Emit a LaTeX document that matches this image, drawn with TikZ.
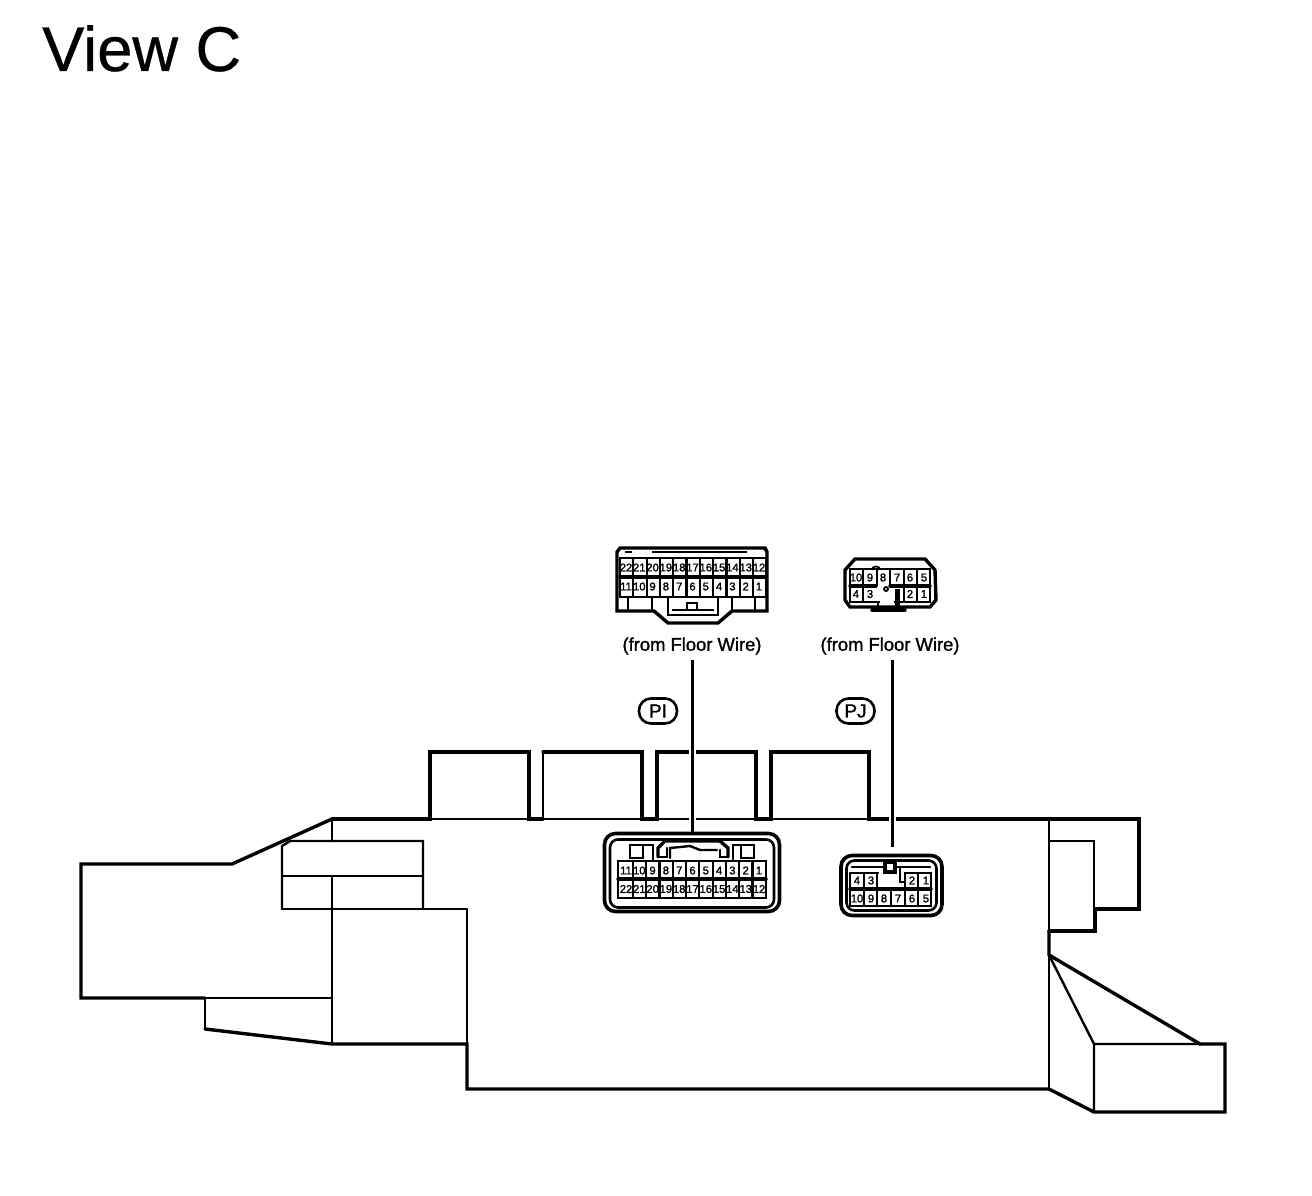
\documentclass[tikz,border=0pt]{standalone}
\usepackage{fontspec}
\setmainfont{Liberation Sans}
\newfontfamily\titlefont[FakeBold=0.6]{Liberation Sans}
\newfontfamily\labelfont[FakeBold=1.2]{Liberation Sans}
\newfontfamily\pinfont[FakeBold=1.6]{Liberation Sans}
\usetikzlibrary{calc}
\tikzset{
 thickline/.style={line width=3.4pt,line join=miter,line cap=round},
 thinline/.style={line width=2.4pt,line join=miter,line cap=round},
 cellline/.style={line width=2.2pt},
 leader/.style={line width=3pt},
 halo/.style={line width=7pt,white},
 pin/.style={inner sep=0pt,font=\pinfont\fontsize{11.2}{11.2}\selectfont},
 wirelabel/.style={inner sep=0pt,font=\labelfont\fontsize{18.4}{20}\selectfont},
 badge/.style={draw,line width=2.6pt,rounded corners=12pt,minimum width=38pt,minimum height=25pt,inner sep=0pt,font=\labelfont\fontsize{19}{20}\selectfont},
 shell/.style={draw,line width=3.6pt,rounded corners=11pt,inner sep=0pt},
 shellin/.style={draw,line width=2.6pt,rounded corners=8pt,inner sep=0pt},
}
\begin{document}
\begin{tikzpicture}[x=1pt,y=-1pt]
\useasboundingbox (0,0) rectangle (1312,1196);
\node[anchor=base west,inner sep=0pt,font=\titlefont\fontsize{63.2}{64}\selectfont] (title) at (42,71) {View C};

% ---------- housing ----------
\draw[thinline] (430,819) -- (869,819);
\draw[thickline] (332,819) -- (430,819) -- (430,752) -- (529,752) -- (529,819) -- (543,819);
\draw[thinline] (543,819) -- (543,752);
\draw[thickline] (543,752) -- (642,752) -- (642,819) -- (657,819) -- (657,752) -- (756,752) -- (756,819) -- (771,819) -- (771,752) -- (869,752) -- (869,819) -- (1139,819) -- (1139,909) -- (1095,909) -- (1095,931) -- (1049,931);
\draw[thickline] (1049,931) -- (1049,955) -- (1200,1044) -- (1225,1044) -- (1225,1112) -- (1094,1112) -- (1049,1089);
\draw[thinline] (1049,819) -- (1049,931) (1049,955) -- (1049,1089);
\draw[thinline] (1049,841) -- (1094,841) -- (1094,909);
\draw[thinline] (1049,955) -- (1094,1044) -- (1200,1044) (1094,1044) -- (1094,1112);
\draw[thickline] (1049,1089) -- (467,1089) -- (467,1044) -- (332,1044) -- (205,1029);
\draw[thinline] (205,1029) -- (205,998) -- (332,998);
\draw[thickline] (205,998) -- (81,998) -- (81,864) -- (232,864) -- (332,819);
\draw[thinline] (282,909) -- (282,846) -- (290,841) -- (423,841) -- (423,909);
\draw[thinline] (282,876) -- (423,876);
\draw[thinline] (282,909) -- (467,909) -- (467,1044);
\draw[thinline] (332,819) -- (332,841) (332,876) -- (332,1044);

% ---------- upper PI connector ----------
\draw[thickline] (620,548) -- (765,548) -- (767,552) -- (767,611) -- (732,611) -- (718,623) -- (668,623) -- (654,611) -- (617,611) -- (617,552) -- cycle;
\draw[thinline] (620,558) rectangle (766,597);
\draw[thickline] (620,577) -- (766,577);
\foreach \i in {1,...,10} \draw[cellline] ({620+13.3*\i},558) -- ({620+13.3*\i},597);
\draw[line width=1.6pt] (625,552) -- (632,552) (652,552) -- (734,552) (734,552) -- (747,552);
\draw[thinline] (652,597) -- (652,611) (732,597) -- (732,611);
\draw[thinline] (668,597) -- (668,615) -- (718,615) -- (718,597);
\draw[line width=1.8pt] (687,610) -- (687,603) -- (697,603) -- (697,610);
\draw[line width=1.8pt] (672,610) -- (714,610);
\draw[thinline] (628,597) -- (628,610) (755,610) -- (755,597);
\foreach \n [count=\i from 0] in {22,21,20,19,18,17,16,15,14,13,12}
  \node[pin] (ua\n) at ({626+13.3*\i},567.5) {\n};
\foreach \n [count=\i from 0] in {11,10,9,8,7,6,5,4,3,2,1}
  \node[pin] (ub\n) at ({626+13.3*\i},586.5) {\n};

% ---------- upper PJ connector ----------
\draw[thickline] (855,559) -- (925,559) -- (935,570) -- (936,600) -- (930,607) -- (850,607) -- (845,600) -- (845,570) -- cycle;
\draw[thinline] (850,569) rectangle (930,602);
\draw[thickline] (850,586) -- (876,586) (890,586) -- (930,586);
\foreach \x in {863,877,890,904,917} \draw[cellline] (\x,569) -- (\x,586);
\draw[cellline] (863,586) -- (863,602) (904,586) -- (904,602) (917,586) -- (917,602);
\draw[white,line width=3.6pt] (880,602) -- (894,602);
\draw[line width=5pt] (897.5,589) -- (897.5,608);
\draw[thickline] (872,610) -- (905,610);
\draw[line width=1.8pt] (878,602) -- (878,607) (886,589) circle (2pt);
\draw[line width=1.6pt] (872,569) arc (180:360:4 and 2.5);
\foreach \n/\x in {10/856,9/870,8/883,7/897,6/910,5/924}
  \node[pin] (uc\n) at (\x,577.5) {\n};
\foreach \n/\x in {4/856,3/870,2/910,1/924}
  \node[pin] (ud\n) at (\x,594) {\n};

% ---------- labels ----------
\node[wirelabel] (fwA) at (692,646) {(from Floor Wire)};
\node[wirelabel] (fwB) at (890,646) {(from Floor Wire)};
\node[badge] (PI) at (658,711) {PI};
\node[badge] (PJ) at (855.5,711) {PJ};

% ---------- lower PI connector ----------
\node[shell,minimum width=175pt,minimum height=78pt] (lowA) at (692,872.5) {};
\node[shellin,minimum width=164pt,minimum height=68pt] at (692,873.5) {};
\draw[thinline] (618,861) rectangle (766,898);
\draw[thickline] (618,879) -- (766,879);
\foreach \i in {1,...,10} \draw[cellline] ({619.5+13.3*\i},861) -- ({619.5+13.3*\i},898);
\draw[thinline] (630,858) -- (630,845) -- (643,845) -- (643,858) -- cycle;
\draw[thinline] (741,858) -- (741,845) -- (754,845) -- (754,858) -- cycle;
\draw[thinline] (643,845) -- (653,845) -- (653,861) (733,861) -- (733,845) -- (741,845);
\draw[thickline] (658,857) -- (658,848) -- (665,841) -- (720,841) -- (728,848) -- (728,857);
\draw[thinline] (658,857) -- (667,857) -- (667,848) (728,857) -- (720,857) -- (720,850);
\draw[thinline] (670,858) -- (670,848) -- (690,846) -- (700,850) -- (717,850);
\foreach \n [count=\i from 0] in {11,10,9,8,7,6,5,4,3,2,1}
  \node[pin] (lb\n) at ({626+13.3*\i},870.5) {\n};
\foreach \n [count=\i from 0] in {22,21,20,19,18,17,16,15,14,13,12}
  \node[pin] (la\n) at ({626+13.3*\i},889) {\n};

% ---------- lower PJ connector ----------
\node[shell,minimum width=101pt,minimum height=60pt] (lowB) at (891.5,885.5) {};
\node[shellin,minimum width=90pt,minimum height=50pt] at (891.5,885.5) {};
\draw[thinline] (850,873) -- (850,906) -- (931,906) -- (931,873) -- (905,873) (850,873) -- (878,873);
\draw[thickline] (850,889) -- (931,889);
\draw[cellline] (864,873) -- (864,906) (905,873) -- (905,906) (918,873) -- (918,906) (877,873) -- (877,906) (891,889) -- (891,906);
\draw[thinline] (852,867) -- (884,867) (896,867) -- (930,867);
\draw[thickline] (885,862) -- (895,862) -- (895,872) -- (885,872) -- cycle;
\draw[thinline] (897,867) -- (900,867) -- (900,882) -- (905,882) -- (905,873);
\foreach \n/\x in {4/857,3/871,2/912,1/926}
  \node[pin] (ld\n) at (\x,880.5) {\n};
\foreach \n/\x in {10/857,9/871,8/884,7/898,6/912,5/926}
  \node[pin] (lc\n) at (\x,898.5) {\n};

% ---------- leaders ----------
\coordinate (leadA) at (692,660);
\coordinate (leadB) at (892,660);
\coordinate (endB) at ($(lowB.north)+(0.5,-7)$);
\draw[halo] (692,746) -- (692,758) (692,815) -- (692,823);
\draw[halo] (892,815) -- (892,823);
\draw[leader] (leadA) -- (leadA |- lowA.north);
\draw[leader] (leadB) -- (leadB |- endB);
\end{tikzpicture}
\end{document}
